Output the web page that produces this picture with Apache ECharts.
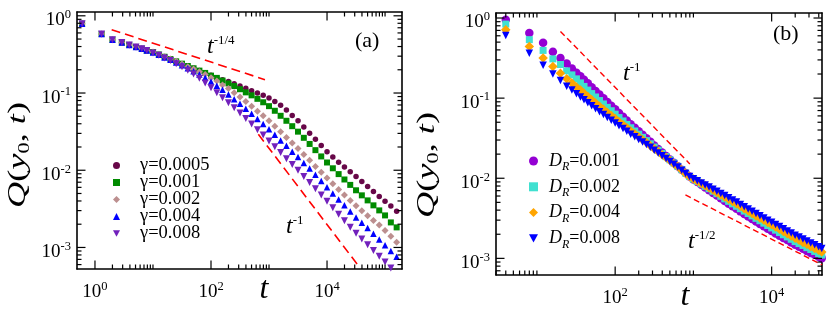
<!DOCTYPE html>
<html><head><meta charset="utf-8">
<script src="https://cdn.jsdelivr.net/npm/echarts@6/dist/echarts.min.js"></script>
<style>html,body{margin:0;padding:0;background:#fff}#c{width:830px;height:312px}</style>
</head><body><div id="c"></div>
<script>
// ---------- Panel (a) data ----------
const tA = [0.6,1.3,2,2.9,3.9,5.1,6.4,7.8,
  10,12.6,15.8,20,25.1,31.6,39.8,50.1,63.1,79.4,
  100,126,158,200,251,316,398,501,631,794,
  1000,1259,1585,1995,2512,3162,3981,5012,6310,7943,
  10000,12589,15849,19953,25119,31623,39811,50119,63096,79433,
  100000,125893,158489];
const gammaNames = ['γ=0.0005','γ=0.001','γ=0.002','γ=0.004','γ=0.008'];
const qG1 = [0.79,0.58,0.49,0.45,0.42,0.395,0.375,0.355,
  0.339,0.316,0.295,0.275,0.257,0.240,0.224,0.209,0.195,0.182,
  0.170,0.158,0.148,0.141,0.132,0.123,0.115,0.107,0.100,0.0933,
  0.0861,0.0776,0.0692,0.0603,0.0513,0.0437,0.0363,0.0302,0.0251,0.0209,
  0.0174,0.0148,0.0127,0.0110,0.00955,0.00832,0.00716,0.00617,0.00531,0.00457,
  0.00398,0.00343,0.00295];
const qG2 = [0.79,0.58,0.49,0.45,0.42,0.395,0.375,0.355,
  0.339,0.316,0.295,0.275,0.257,0.240,0.224,0.209,0.195,0.182,
  0.168,0.157,0.145,0.133,0.123,0.112,0.102,0.0933,0.0841,0.0759,
  0.0676,0.0589,0.0507,0.0437,0.0372,0.0316,0.0263,0.0219,0.0182,0.0151,
  0.0126,0.0106,0.00891,0.00759,0.00646,0.00550,0.00473,0.00407,0.00351,0.00302,
  0.00260,0.00211,0.00182];
const qG3 = [0.79,0.58,0.49,0.45,0.42,0.395,0.375,0.355,
  0.339,0.316,0.295,0.275,0.257,0.237,0.219,0.204,0.188,0.174,
  0.158,0.143,0.127,0.114,0.101,0.0891,0.0776,0.0676,0.0582,0.0507,
  0.0437,0.0372,0.0316,0.0266,0.0226,0.0191,0.0160,0.0135,0.0112,0.00944,
  0.00794,0.00668,0.00562,0.00479,0.00407,0.00347,0.00299,0.00257,0.00224,0.00195,
  0.00166,0.00140,0.00117];
const qG4 = [0.79,0.58,0.49,0.45,0.42,0.395,0.375,0.355,
  0.335,0.313,0.288,0.269,0.248,0.229,0.209,0.191,0.174,0.158,
  0.141,0.124,0.110,0.0955,0.0832,0.0724,0.0624,0.0537,0.0462,0.0398,
  0.0339,0.0288,0.0243,0.0207,0.0174,0.0148,0.0124,0.0105,0.00871,0.00724,
  0.00603,0.00501,0.00417,0.00351,0.00292,0.00245,0.00209,0.00178,0.00150,0.00127,
  0.00107,0.000902,0.000759];
const qG5 = [0.79,0.58,0.49,0.45,0.42,0.395,0.375,0.355,
  0.331,0.309,0.285,0.263,0.240,0.219,0.197,0.176,0.155,0.135,
  0.117,0.101,0.0871,0.0750,0.0646,0.0550,0.0468,0.0398,0.0335,0.0285,
  0.0240,0.0202,0.0170,0.0141,0.0119,0.0100,0.00832,0.00692,0.00575,0.00479,
  0.00398,0.00327,0.00269,0.00221,0.00182,0.00153,0.00129,0.00108,0.000912,0.000767,
  0.000646,0.000543,0.000457];

// ---------- Panel (b) data ----------
const tB = [4,8,12,16,20,24,28,32,36,40,
  44.7,50.1,56.2,63.1,70.8,79.4,89.1,100,
  112,126,141,158,178,200,224,251,282,316,
  355,398,447,501,562,631,708,794,891,1000,
  1122,1259,1413,1585,1778,1995,2239,2512,2818,3162,
  3548,3981,4467,5012,5623,6310,7079,7943,8913,10000,
  11220,12589,14125,15849,17783,19953,22387,25119,28184,31623,
  35481,39811,43652];
const drNames = ['D_R=0.001','D_R=0.002','D_R=0.004','D_R=0.008'];
const qD1 = [0.95,0.65,0.49,0.38,0.316,0.27,0.234,0.208,0.187,0.170,
  0.153,0.137,0.123,0.111,0.0998,0.0895,0.0805,0.0724,
  0.0652,0.0585,0.0526,0.0473,0.0428,0.0386,0.0350,0.0316,0.0285,0.0257,
  0.0232,0.0209,0.0189,0.0172,0.0156,0.0141,0.0128,0.0116,0.0105,0.00968,
  0.00895,0.00828,0.00766,0.00708,0.00656,0.00607,0.00562,0.00521,0.00482,0.00447,
  0.00415,0.00386,0.00359,0.00333,0.00310,0.00288,0.00269,0.00251,0.00234,0.00219,
  0.00205,0.00192,0.00180,0.00169,0.00158,0.00148,0.00140,0.00132,0.00124,0.00117,
  0.00111,0.00105,0.00100];
const qD2 = [0.84,0.537,0.394,0.309,0.263,0.219,0.195,0.174,0.155,0.140,
  0.126,0.114,0.1033,0.0933,0.0846,0.0767,0.0696,0.0631,
  0.0572,0.0519,0.0470,0.0427,0.0389,0.0355,0.0324,0.0295,0.0269,0.0245,
  0.0224,0.0204,0.0186,0.0170,0.0155,0.0141,0.0128,0.0116,0.0105,0.00977,
  0.00912,0.00851,0.00794,0.00741,0.00689,0.00641,0.00596,0.00553,0.00515,0.00479,
  0.00447,0.00417,0.00389,0.00363,0.00339,0.00316,0.00295,0.00275,0.00257,0.00240,
  0.00225,0.00210,0.00197,0.00185,0.00173,0.00162,0.00153,0.00145,0.00136,0.00129,
  0.00122,0.00115,0.00110];
const qD3 = [0.714,0.442,0.316,0.248,0.204,0.174,0.155,0.138,0.126,0.115,
  0.105,0.0955,0.0871,0.0794,0.0726,0.0664,0.0608,0.0556,
  0.0508,0.0465,0.0426,0.0389,0.0358,0.0329,0.0303,0.0279,0.0255,0.0234,
  0.0215,0.0197,0.0181,0.0166,0.0152,0.0140,0.0127,0.0115,0.0105,0.00982,
  0.00920,0.00863,0.00809,0.00759,0.00711,0.00665,0.00624,0.00585,0.00547,0.00513,
  0.00479,0.00447,0.00417,0.00389,0.00363,0.00339,0.00318,0.00299,0.00280,0.00263,
  0.00247,0.00231,0.00216,0.00203,0.00190,0.00178,0.00168,0.00158,0.00150,0.00141,
  0.00133,0.00126,0.00120];
const qD4 = [0.603,0.363,0.257,0.200,0.166,0.141,0.126,0.1135,0.1035,0.0955,
  0.0876,0.0804,0.0737,0.0676,0.0624,0.0575,0.0531,0.0490,
  0.0452,0.0417,0.0385,0.0355,0.0329,0.0305,0.0283,0.0263,0.0243,0.0224,
  0.0207,0.0191,0.0176,0.0162,0.0150,0.0138,0.0126,0.0115,0.0105,0.00986,
  0.00929,0.00875,0.00824,0.00776,0.00730,0.00687,0.00646,0.00607,0.00571,0.00537,
  0.00504,0.00471,0.00442,0.00414,0.00387,0.00363,0.00341,0.00320,0.00300,0.00282,
  0.00265,0.00249,0.00234,0.00220,0.00207,0.00195,0.00185,0.00175,0.00165,0.00156,
  0.00148,0.00140,0.00133];

// ---------- guide lines (power laws) ----------
const guideA1T = [1.94, 851],   guideA1Q = [0.66, 0.149];     // t^-1/4
const guideA2T = [655, 37070],  guideA2Q = [0.0292, 0.000543]; // t^-1
const guideB1T = [20, 900],     guideB1Q = [0.68, 0.0151];     // t^-1
const guideB2T = [791, 44000],  guideB2Q = [0.00618, 0.000829];// t^-1/2

// ---------- axis ranges ----------
const xRangeA = [0.49, 196000], yRangeA = [5.26e-4, 1.12];
const xRangeB = [3.0, 44000],   yRangeB = [6.2e-4, 1.155];

const FONT = 'Liberation Serif';
const chart = echarts.init(document.getElementById('c'));

function pairs(t, q) { return t.map((v, i) => [v, q[i]]); }
function line2(t, q) { return [[t[0], q[0]], [t[1], q[1]]]; }

function fmt(isX) {
  return function (v) {
    const l = Math.log10(v), e = Math.round(l);
    if (Math.abs(l - e) > 1e-6) return '';
    if (isX && e % 2 !== 0) return '';
    return '{b|10}{e|' + e + '}';
  };
}
const labelRich = {
  b: {fontFamily: FONT, fontSize: 19, lineHeight: 24, color: '#000'},
  e: {fontFamily: FONT, fontSize: 12.5, lineHeight: 13, verticalAlign: 'top', color: '#000'}
};
const axLine = {show: true, lineStyle: {color: '#000', width: 1.6}};

function xAxis(grid, range, pos, withLabels) {
  return {gridIndex: grid, type: 'log', logBase: 10, min: range[0], max: range[1], position: pos,
    axisLine: axLine, axisTick: {show: false}, splitLine: {show: false}, minorTick: {show: false},
    axisLabel: {show: withLabels, formatter: fmt(true), margin: 11, rich: labelRich}};
}
function yAxis(grid, range, pos, withLabels) {
  return {gridIndex: grid, type: 'log', logBase: 10, min: range[0], max: range[1], position: pos,
    axisLine: axLine, axisTick: {show: false}, splitLine: {show: false}, minorTick: {show: false},
    axisLabel: {show: withLabels, formatter: fmt(false), margin: 6, padding: [9, 0, 0, 0], rich: labelRich}};
}

// tick marks (major every 2 decades on t, minor m*10^k; every decade on Q)
function makeTicks(xr, yr) {
  const items = [];
  for (let k = -5; k <= 6; k++) {
    const base = Math.pow(10, k);
    if (k % 2 === 0) {
      if (base >= xr[0] && base <= xr[1]) items.push([base, yr[0], 0]);
      for (let m = 2; m <= 10; m++) { const v = m * base; if (v >= xr[0] && v <= xr[1]) items.push([v, yr[0], 1]); }
    }
    if (base >= yr[0] && base <= yr[1]) items.push([xr[0], base, 2]);
    for (let m = 2; m <= 9; m++) { const v = m * base; if (v >= yr[0] && v <= yr[1]) items.push([xr[0], v, 3]); }
  }
  return items;
}
function tickRenderer(xr, yr) {
  return function (params, api) {
    const kind = api.value(2);
    const len = (kind === 0 || kind === 2) ? 8.5 : 4.5;
    const st = {stroke: '#000', lineWidth: 1.2};
    if (kind < 2) {
      const v = api.value(0);
      const b = api.coord([v, yr[0]]), t = api.coord([v, yr[1]]);
      return {type: 'group', children: [
        {type: 'line', shape: {x1: b[0], y1: b[1], x2: b[0], y2: b[1] - len}, style: st},
        {type: 'line', shape: {x1: t[0], y1: t[1], x2: t[0], y2: t[1] + len}, style: st}]};
    }
    const v = api.value(1);
    const l = api.coord([xr[0], v]), r = api.coord([xr[1], v]);
    return {type: 'group', children: [
      {type: 'line', shape: {x1: l[0], y1: l[1], x2: l[0] + len, y2: l[1]}, style: st},
      {type: 'line', shape: {x1: r[0], y1: r[1], x2: r[0] - len, y2: r[1]}, style: st}]};
  };
}

const downTri = 'path://M0,0L10,0L5,9Z';
const colA = ['#670748', '#008b00', '#bc8f8f', '#0000ff', '#7221bc'];
const symA = ['circle', 'rect', 'diamond', 'triangle', downTri];
const sizeA = [5.5, 6, 7, 6.5, 7];
const qA = [qG1, qG2, qG3, qG4, qG5];
const colB = ['#9400d3', '#40e0d0', '#ffa500', '#0000ff'];
const symB = ['circle', 'rect', 'diamond', downTri];
const sizeB = [8.5, 7, 9.5, 7.5];
const qB = [qD1, qD2, qD3, qD4];

const series = [];
qA.forEach((q, i) => series.push({type: 'scatter', name: gammaNames[i], xAxisIndex: 0, yAxisIndex: 0,
  data: pairs(tA, q), symbol: symA[i], symbolSize: sizeA[i], itemStyle: {color: colA[i], opacity: 1}, z: 2 + i}));
qB.forEach((q, i) => series.push({type: 'scatter', name: drNames[i], xAxisIndex: 2, yAxisIndex: 2,
  data: pairs(tB, q), symbol: symB[i], symbolSize: sizeB[i], itemStyle: {color: colB[i], opacity: 1}, z: 2 + i}));
const dashA = {color: '#ff0000', width: 1.6, type: [9, 5]};
const dashB = {color: '#ff0000', width: 1.4, type: [6, 3.5]};
series.push({type: 'line', xAxisIndex: 0, yAxisIndex: 0, data: line2(guideA1T, guideA1Q), symbol: 'none', lineStyle: dashA, z: 8});
series.push({type: 'line', xAxisIndex: 0, yAxisIndex: 0, data: line2(guideA2T, guideA2Q), symbol: 'none', lineStyle: dashA, z: 8});
series.push({type: 'line', xAxisIndex: 2, yAxisIndex: 2, data: line2(guideB1T, guideB1Q), symbol: 'none', lineStyle: dashB, z: 8});
series.push({type: 'line', xAxisIndex: 2, yAxisIndex: 2, data: line2(guideB2T, guideB2Q), symbol: 'none', lineStyle: dashB, z: 8});
series.push({type: 'custom', xAxisIndex: 0, yAxisIndex: 0, data: makeTicks(xRangeA, yRangeA),
  renderItem: tickRenderer(xRangeA, yRangeA), silent: true, clip: false, z: 20});
series.push({type: 'custom', xAxisIndex: 2, yAxisIndex: 2, data: makeTicks(xRangeB, yRangeB),
  renderItem: tickRenderer(xRangeB, yRangeB), silent: true, clip: false, z: 20});

const legendA = {
  data: gammaNames.map((n, i) => ({name: n, icon: i === 4 ? downTri : undefined})),
  orient: 'vertical', left: 108, top: 151, itemWidth: 7, itemHeight: 7, itemGap: -2, selectedMode: false,
  textStyle: {fontFamily: FONT, fontSize: 18.5, lineHeight: 16, color: '#000', padding: [0, 0, 0, 15]}
};
const legendB = {
  data: drNames.map((n, i) => ({name: n, icon: i === 3 ? downTri : undefined})),
  orient: 'vertical', left: 524, top: 147, itemWidth: 9, itemHeight: 9, itemGap: 4.8, selectedMode: false,
  formatter: function (name) { return '{i|D}{s|R}{n|' + name.slice(3) + '}'; },
  textStyle: {fontFamily: FONT, fontSize: 18, color: '#000', padding: [0, 0, 0, 6],
    rich: {
      i: {fontFamily: FONT, fontStyle: 'italic', fontSize: 18, lineHeight: 24, color: '#000'},
      s: {fontFamily: FONT, fontStyle: 'italic', fontSize: 12, lineHeight: 12, verticalAlign: 'bottom', color: '#000'},
      n: {fontFamily: FONT, fontSize: 18, lineHeight: 24, color: '#000'}
    }}
};

const annRich = {
  t: {fontFamily: FONT, fontStyle: 'italic', fontSize: 24, lineHeight: 26, fill: '#000'},
  e: {fontFamily: FONT, fontSize: 13, lineHeight: 14, verticalAlign: 'top', fill: '#000'}
};
function ann(x, y, sup) {
  return {type: 'text', x: x, y: y, z: 30, style: {text: '{t|t}{e|' + sup + '}', rich: annRich, align: 'left', verticalAlign: 'top', fill: '#000'}};
}
function plain(x, y, txt) {
  return {type: 'text', x: x, y: y, z: 30, style: {text: txt, fontFamily: FONT, fontSize: 22, fill: '#000', align: 'left', verticalAlign: 'top'}};
}
function axisTitle(x, y) {
  return {type: 'text', x: x, y: y, z: 30, style: {text: 't', fontFamily: FONT, fontStyle: 'italic', fontSize: 32, fill: '#000', align: 'center', verticalAlign: 'top'}};
}
const qRich = {
  q: {fontFamily: FONT, fontStyle: 'italic', fontSize: 26, lineHeight: 30, fill: '#000'},
  p: {fontFamily: FONT, fontSize: 26, lineHeight: 30, fill: '#000'},
  s: {fontFamily: FONT, fontSize: 16, lineHeight: 16, verticalAlign: 'bottom', fill: '#000'}
};
function qTitle(x, y) {
  return {type: 'text', x: x, y: y, rotation: Math.PI / 2, scaleX: 1.4, z: 30,
    style: {text: '{q|Q}{p|(}{q|y}{s|0}{p|, }{q|t}{p|)}', rich: qRich, align: 'center', verticalAlign: 'middle'}};
}

chart.setOption({
  animation: false,
  backgroundColor: '#fff',
  grid: [
    {left: 77, top: 12, width: 325, height: 257, containLabel: false, outerBoundsMode: 'none'},
    {left: 496, top: 13, width: 326, height: 262, containLabel: false, outerBoundsMode: 'none'}
  ],
  xAxis: [
    xAxis(0, xRangeA, 'bottom', true), xAxis(0, xRangeA, 'top', false),
    xAxis(1, xRangeB, 'bottom', true), xAxis(1, xRangeB, 'top', false)
  ],
  yAxis: [
    yAxis(0, yRangeA, 'left', true), yAxis(0, yRangeA, 'right', false),
    yAxis(1, yRangeB, 'left', true), yAxis(1, yRangeB, 'right', false)
  ],
  legend: [legendA, legendB],
  series: series,
  graphic: [
    ann(207, 34, '-1/4'), ann(286, 214, '-1'), ann(623, 61, '-1'), ann(688, 229, '-1/2'),
    plain(355, 30, '(a)'), plain(773, 23, '(b)'),
    axisTitle(264, 274), axisTitle(685, 281),
    qTitle(18, 155), qTitle(427, 165)
  ]
});
</script>
</body></html>
